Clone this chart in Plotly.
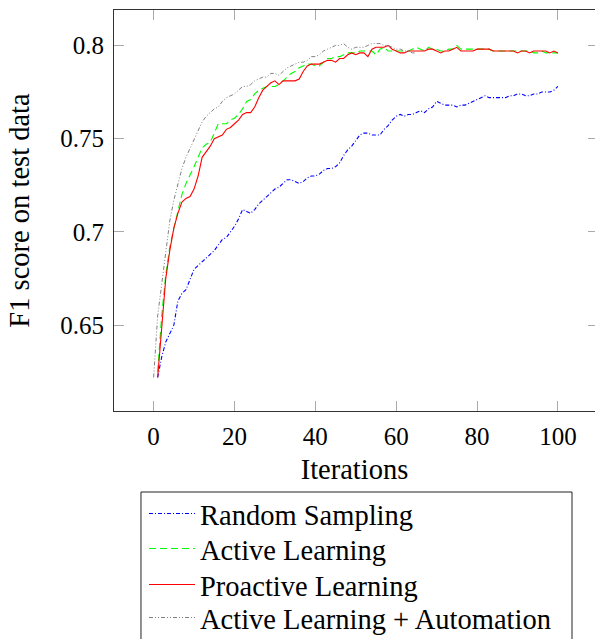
import plotly.graph_objects as go

iters = list(range(1, 101))
iters_auto = list(range(0, 66))

random_sampling = [
    0.622, 0.633, 0.641, 0.646, 0.650, 0.663, 0.667, 0.669, 0.674, 0.680,
    0.682, 0.684, 0.686, 0.688, 0.690, 0.693, 0.696, 0.697, 0.700, 0.703,
    0.707, 0.712, 0.711, 0.710, 0.712, 0.715, 0.717, 0.719, 0.721, 0.723,
    0.724, 0.726, 0.728, 0.728, 0.727, 0.726, 0.727, 0.729, 0.730, 0.730,
    0.731, 0.733, 0.734, 0.734, 0.735, 0.737, 0.741, 0.744, 0.746, 0.749,
    0.752, 0.753, 0.753, 0.752, 0.752, 0.752, 0.755, 0.757, 0.760, 0.762,
    0.763, 0.762, 0.763, 0.763, 0.764, 0.765, 0.764, 0.766, 0.767, 0.770,
    0.769, 0.768, 0.768, 0.768, 0.767, 0.768, 0.768, 0.769, 0.770, 0.771,
    0.772, 0.773, 0.772, 0.772, 0.772, 0.772, 0.772, 0.773, 0.773, 0.774,
    0.774, 0.773, 0.773, 0.774, 0.774, 0.775, 0.775, 0.775, 0.776, 0.778,
]

active_learning = [
    0.625, 0.655, 0.677, 0.692, 0.702, 0.711, 0.720, 0.726, 0.731, 0.735,
    0.740, 0.745, 0.747, 0.748, 0.753, 0.758, 0.758, 0.758, 0.760, 0.761,
    0.763, 0.766, 0.770, 0.771, 0.774, 0.776, 0.777, 0.778, 0.778, 0.778,
    0.779, 0.781, 0.783, 0.785, 0.786, 0.788, 0.789, 0.790, 0.790, 0.789,
    0.789, 0.791, 0.793, 0.793, 0.794, 0.794, 0.795, 0.796, 0.796, 0.796,
    0.797, 0.797, 0.797, 0.797, 0.795, 0.798, 0.799, 0.797, 0.797, 0.797,
    0.797, 0.797, 0.797, 0.798, 0.799, 0.798, 0.797, 0.799, 0.798, 0.798,
    0.797, 0.797, 0.798, 0.798, 0.800, 0.798, 0.798, 0.798, 0.798, 0.798,
    0.798, 0.798, 0.798, 0.797, 0.797, 0.797, 0.797, 0.797, 0.797, 0.797,
    0.797, 0.797, 0.797, 0.796, 0.796, 0.797, 0.796, 0.796, 0.796, 0.796,
]

proactive_learning = [
    0.622, 0.650, 0.675, 0.690, 0.702, 0.710, 0.716, 0.718, 0.719, 0.723,
    0.730, 0.740, 0.743, 0.746, 0.750, 0.751, 0.752, 0.755, 0.756, 0.758,
    0.760, 0.763, 0.764, 0.764, 0.767, 0.772, 0.776, 0.778, 0.780, 0.781,
    0.779, 0.781, 0.781, 0.781, 0.781, 0.782, 0.786, 0.789, 0.790, 0.790,
    0.790, 0.791, 0.792, 0.792, 0.791, 0.793, 0.793, 0.795, 0.796, 0.795,
    0.796, 0.796, 0.794, 0.798, 0.799, 0.799, 0.799, 0.800, 0.798, 0.797,
    0.796, 0.796, 0.797, 0.797, 0.797, 0.797, 0.797, 0.798, 0.798, 0.797,
    0.796, 0.797, 0.797, 0.798, 0.799, 0.797, 0.797, 0.797, 0.797, 0.798,
    0.798, 0.798, 0.798, 0.797, 0.797, 0.797, 0.797, 0.797, 0.797, 0.796,
    0.797, 0.797, 0.796, 0.797, 0.797, 0.797, 0.797, 0.796, 0.797, 0.796,
]

active_automation = [
    0.622, 0.655, 0.672, 0.690, 0.706, 0.717, 0.726, 0.734, 0.740, 0.745,
    0.750, 0.755, 0.759, 0.762, 0.764, 0.766, 0.767, 0.770, 0.772, 0.773,
    0.774, 0.776, 0.778, 0.778, 0.779, 0.781, 0.782, 0.783, 0.783, 0.785,
    0.785, 0.784, 0.786, 0.788, 0.789, 0.790, 0.791, 0.791, 0.792, 0.794,
    0.794, 0.795, 0.797, 0.798, 0.799, 0.800, 0.800, 0.801, 0.799, 0.798,
    0.799, 0.799, 0.799, 0.800, 0.801, 0.801, 0.801, 0.800, 0.800, 0.799,
    0.798, 0.798, 0.797, 0.797, 0.796, 0.796,
]

series_names = ["Random Sampling", "Active Learning", "Proactive Learning",
                "Active Learning + Automation"]

y_ticks = [0.65, 0.7, 0.75, 0.8]
y_tick_labels = ["0.65", "0.7", "0.75", "0.8"]
x_ticks = [0, 20, 40, 60, 80, 100]

FONT = "Liberation Serif, Times New Roman, DejaVu Serif, serif"
LEG_SIZE = 28.5

fig = go.Figure()
fig.add_trace(go.Scatter(x=iters, y=random_sampling, mode="lines", name=series_names[0],
                         legend="legend",
                         line=dict(color="#0000ff", width=1.1, dash="4px,2px,1px,2px")))
fig.add_trace(go.Scatter(x=iters, y=active_learning, mode="lines", name=series_names[1],
                         legend="legend2",
                         line=dict(color="#00ff00", width=1.1, dash="7px,4px")))
fig.add_trace(go.Scatter(x=iters, y=proactive_learning, mode="lines", name=series_names[2],
                         legend="legend3",
                         line=dict(color="#ff0000", width=1.1)))
fig.add_trace(go.Scatter(x=iters_auto, y=active_automation, mode="lines", name=series_names[3],
                         legend="legend4",
                         line=dict(color="#808080", width=1.0, dash="4px,2px,1px,2px,1px,2px")))
# invisible trace to carry right-side mirrored ticks
fig.add_trace(go.Scatter(x=[None], y=[None], yaxis="y2", showlegend=False, hoverinfo="skip"))


def legend_box(yc):
    return dict(
        x=0.0624, y=yc, xanchor="left", yanchor="middle",
        borderwidth=0, bgcolor="rgba(0,0,0,0)",
        font=dict(family=FONT, size=LEG_SIZE, color="black"), itemwidth=46,
    )


fig.update_layout(
    width=595, height=639,
    margin=dict(l=114, r=0, t=10, b=228, autoexpand=False),
    plot_bgcolor="white", paper_bgcolor="white",
    font=dict(family=FONT, color="black"),
    xaxis=dict(
        range=[-9.8, 109.17], tickvals=x_ticks, ticks="inside", ticklen=10,
        tickcolor="#aaaaaa", tickwidth=1, showline=True, linecolor="#333333",
        linewidth=1, mirror="ticks", showgrid=False, zeroline=False, automargin=False,
        tickfont=dict(family=FONT, size=25), ticklabelstandoff=3,
        title=dict(text="Iterations", font=dict(family=FONT, size=28.5), standoff=10),
    ),
    yaxis=dict(
        range=[0.604, 0.819], tickvals=y_ticks, ticktext=y_tick_labels,
        ticks="inside", ticklen=10, tickcolor="#aaaaaa", tickwidth=1,
        showline=True, linecolor="#333333", linewidth=1, showgrid=False, automargin=False,
        zeroline=False, tickfont=dict(family=FONT, size=25), ticklabelstandoff=4,
        title=dict(text="F1 score on test data", font=dict(family=FONT, size=28.5), standoff=22),
    ),
    yaxis2=dict(
        range=[0.604, 0.819], tickvals=y_ticks, overlaying="y", side="right",
        ticks="inside", ticklen=7, tickcolor="#aaaaaa", showticklabels=False,
        showline=False, showgrid=False, zeroline=False, automargin=False,
    ),
    legend=legend_box(-0.2569),
    legend2=legend_box(-0.3441),
    legend3=legend_box(-0.4339),
    legend4=legend_box(-0.5162),
    shapes=[dict(type="rect", xref="paper", yref="paper",
                 x0=0.0561, x1=0.9522, y0=-0.202, y1=-0.64,
                 line=dict(color="#222222", width=1), fillcolor="rgba(0,0,0,0)",
                 layer="below")],
)

fig.write_html(
    "out.html",
    config={"displayModeBar": False},
    post_script="document.body.style.margin='0';document.body.style.overflow='hidden';",
)
